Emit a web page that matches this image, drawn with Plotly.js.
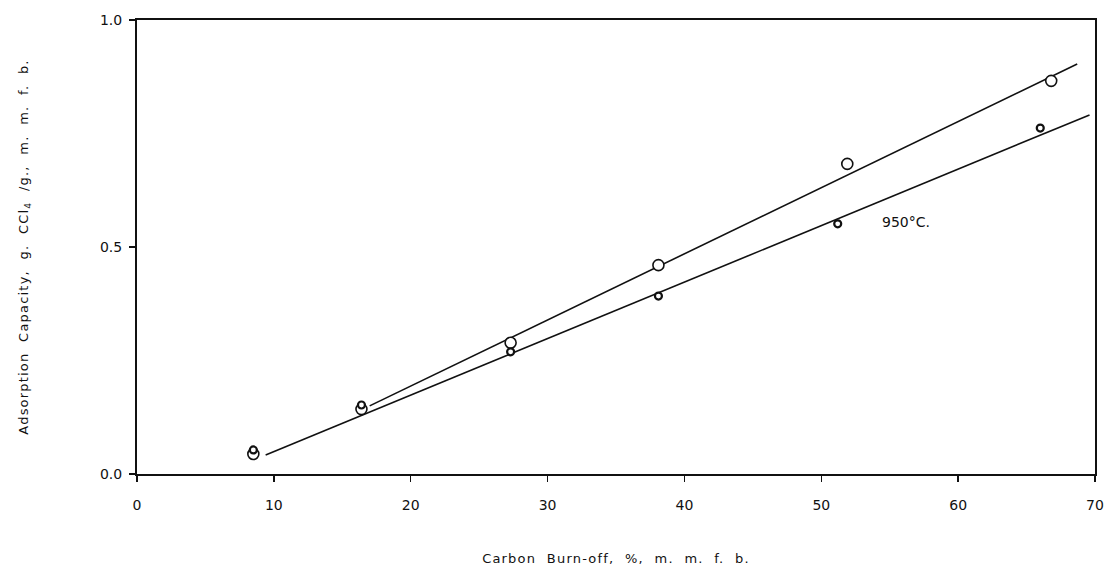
<!DOCTYPE html>
<html>
<head>
<meta charset="utf-8">
<script src="https://cdn.plot.ly/plotly-3.0.1.min.js"></script>
<style>
html,body{margin:0;padding:0;background:#fff;}
#chart{width:1107px;height:566px;}
text.xtitle, text.ytitle{letter-spacing:1.2px;}
</style>
</head>
<body>
<div id="chart"></div>
<script>
// Open circles (upper series)
const openX = [8.5, 16.4, 27.3, 38.1, 51.9, 66.8];
const openY = [0.044, 0.143, 0.289, 0.460, 0.683, 0.866];
// Small circles (950°C series)
const smallX = [8.5, 16.4, 27.3, 38.1, 51.2, 66.0];
const smallY = [0.053, 0.152, 0.269, 0.392, 0.551, 0.762];
// Fitted lines (endpoints)
const upperLineX = [17.0, 68.7];
const upperLineY = [0.150, 0.903];
const lowerLineX = [9.4, 69.6];
const lowerLineY = [0.042, 0.791];
// Ticks
const xTicks = [0, 10, 20, 30, 40, 50, 60, 70];
const yTicks = [0.0, 0.5, 1.0];
const yTickText = ["0.0", "0.5", "1.0"];
const seriesLabel = "950°C.";
const labelPos = [56.2, 0.555];

const font = "DejaVu Sans, Lato, sans-serif";
const nb = "\u00A0";
const sp = s => s.split(" ").join(nb + nb);

const traces = [
  {x: upperLineX, y: upperLineY, mode: "lines", line: {color: "#111", width: 1.6}, hoverinfo: "skip"},
  {x: lowerLineX, y: lowerLineY, mode: "lines", line: {color: "#111", width: 1.6}, hoverinfo: "skip"},
  {x: openX, y: openY, mode: "markers", marker: {symbol: "circle", size: 11, color: "#fff", line: {color: "#111", width: 1.6}}},
  {x: smallX, y: smallY, mode: "markers", marker: {symbol: "circle", size: 7, color: "#fff", line: {color: "#111", width: 2.2}}}
];

const layout = {
  width: 1107, height: 566,
  margin: {l: 137, r: 12, t: 20, b: 92},
  paper_bgcolor: "#fff", plot_bgcolor: "#fff",
  showlegend: false,
  font: {family: font, color: "#111", size: 14},
  xaxis: {
    range: [0, 70], tickvals: xTicks, ticks: "outside", ticklen: 6, tickwidth: 1.5, tickcolor: "#111",
    showline: true, linecolor: "#111", linewidth: 2, mirror: true, showgrid: false, zeroline: false,
    ticklabelstandoff: 11,
    tickfont: {family: font, size: 14, color: "#111"},
    title: {text: sp("Carbon Burn-off, %, m. m. f. b."), font: {family: font, size: 13, color: "#111"}, standoff: 44}
  },
  yaxis: {
    range: [0, 1.0], tickvals: yTicks, ticktext: yTickText, ticks: "outside", ticklen: 6, tickwidth: 1.5, tickcolor: "#111",
    showline: true, linecolor: "#111", linewidth: 2, mirror: true, showgrid: false, zeroline: false,
    ticklabelstandoff: 4,
    tickfont: {family: font, size: 14, color: "#111"},
    title: {text: sp("Adsorption Capacity, g. CCl<sub>4</sub> /g., m. m. f. b."), font: {family: font, size: 13, color: "#111"}, standoff: 68}
  },
  annotations: [
    {x: labelPos[0], y: labelPos[1], xref: "x", yref: "y", text: seriesLabel, showarrow: false,
     font: {family: font, size: 14, color: "#111"}}
  ]
};

Plotly.newPlot("chart", traces, layout, {displayModeBar: false, staticPlot: true});
</script>
</body>
</html>
